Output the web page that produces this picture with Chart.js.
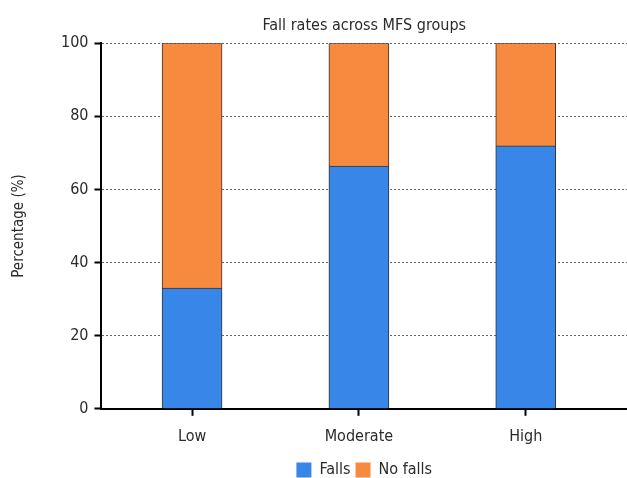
<!DOCTYPE html>
<html>
<head>
<meta charset="utf-8">
<title>Fall rates across MFS groups</title>
<script src="https://cdn.jsdelivr.net/npm/chart.js@4.4.1/dist/chart.umd.min.js"></script>
<style>
  html, body { margin: 0; padding: 0; background: #fff; }
  #wrap { width: 627px; height: 478px; }
</style>
</head>
<body>
<div id="wrap"><canvas id="myChart"></canvas></div>
<script>
// chart data
const categories = ['Low', 'Moderate', 'High'];
const falls = [33, 66.4, 71.9];
const noFalls = [67, 33.6, 28.1];
const yTicks = [0, 20, 40, 60, 80, 100];

const FONT = "'DejaVu Sans Condensed', 'DejaVu Sans', sans-serif";
const TEXT = '#2b2b2b';

// bars sit on a numeric x axis so the categories can be spaced like the original
const toPoints = arr => arr.map((v, i) => ({ x: i, y: v }));

const ctx = document.getElementById('myChart').getContext('2d');
const myChart = new Chart(ctx, {
    type: 'bar',
    data: {
        datasets: [{
            label: 'Falls',
            data: toPoints(falls),
            backgroundColor: '#3886e8',
            borderColor: '#333333',
            borderWidth: 1,
            barThickness: 60
        }, {
            label: 'No falls',
            data: toPoints(noFalls),
            backgroundColor: '#f88a3f',
            borderColor: '#333333',
            borderWidth: 1,
            barThickness: 60
        }]
    },
    options: {
        responsive: true,
        maintainAspectRatio: false,
        animation: false,
        layout: { padding: { top: 12, right: 0, bottom: -10, left: 10 } },
        plugins: {
            tooltip: { enabled: false },
            title: {
                display: true,
                text: 'Fall rates across MFS groups',
                fullSize: false,
                color: TEXT,
                font: { family: FONT, size: 16, weight: 'normal' },
                padding: { top: 4, bottom: 8 }
            },
            legend: {
                position: 'bottom',
                fullSize: false,
                labels: {
                    color: TEXT,
                    font: { family: FONT, size: 16 },
                    boxWidth: 15,
                    boxHeight: 15,
                    padding: 5,
                    generateLabels: chart => {
                        const items = Chart.defaults.plugins.legend.labels.generateLabels(chart);
                        items.forEach(it => { it.lineWidth = 0; });
                        return items;
                    }
                }
            }
        },
        scales: {
            x: {
                type: 'linear',
                stacked: true,
                offset: false,
                min: -0.543,
                max: 2.607,
                afterBuildTicks: scale => {
                    scale.ticks = categories.map((c, i) => ({ value: i }));
                },
                ticks: {
                    color: TEXT,
                    font: { family: FONT, size: 16 },
                    padding: 11,
                    callback: v => categories[v]
                },
                grid: {
                    offset: false,
                    drawOnChartArea: false,
                    drawTicks: true,
                    tickLength: 7,
                    tickColor: '#000',
                    tickWidth: 2
                },
                border: { display: true, color: '#000', width: 2 }
            },
            y: {
                stacked: true,
                min: 0,
                max: 100,
                afterBuildTicks: scale => {
                    scale.ticks = yTicks.map(v => ({ value: v }));
                },
                ticks: {
                    color: TEXT,
                    font: { family: FONT, size: 16 },
                    padding: 6
                },
                grid: {
                    color: '#666',
                    lineWidth: 1,
                    tickLength: 7,
                    tickColor: '#000',
                    tickWidth: 2,
                    tickBorderDash: []
                },
                // in v4 border.dash styles the grid lines
                border: { display: true, color: '#000', width: 2, dash: [2, 2] },
                title: {
                    display: true,
                    text: 'Percentage (%)',
                    color: TEXT,
                    font: { family: FONT, size: 15 },
                    padding: { top: 0, bottom: 27 }
                }
            }
        }
    }
});
</script>
</body>
</html>
